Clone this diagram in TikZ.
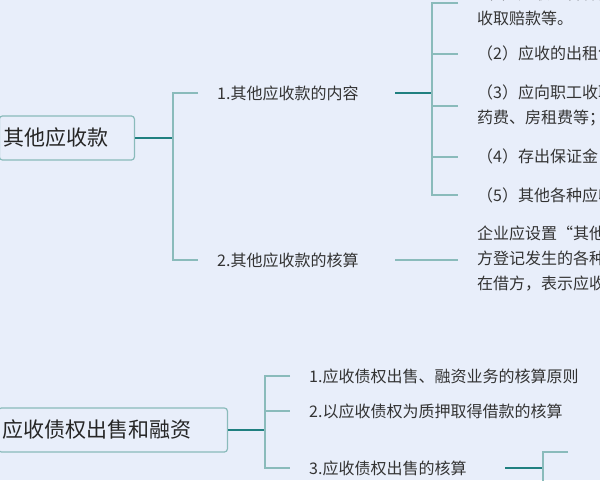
\documentclass[tikz,border=0pt]{standalone}
\usepackage{fontspec}
\setmainfont{Noto Sans CJK SC}
\begin{document}
\begin{tikzpicture}[x=1pt,y=-1pt,
  lnk/.style={draw=teal!45!white!85!gray, line width=1.1pt},
  dlnk/.style={draw=teal!75!gray, line width=1.3pt},
  topic/.style={draw=teal!45!white!85!gray, line width=1.2pt, rounded corners=3pt, minimum height=44pt, inner xsep=4pt, font=\fontsize{21}{24}\selectfont, text=black!85, anchor=east, align=left},
  sub/.style={anchor=west, inner sep=1pt, font=\fontsize{16}{19}\selectfont, text=black!80},
  leaf/.style={anchor=west, inner sep=1pt, align=left, font=\fontsize{16}{25}\selectfont, text=black!80}]
\path[fill={rgb,255:red,232;green,238;blue,250}] (0,0) rectangle (600,480);
\useasboundingbox (0,0) rectangle (600,480);
\clip (0,0) rectangle (600,480);
% topic 1
\node[topic, text width=127pt] (t1) at (135,138) {其他应收款};
\node[sub] (s1) at (216,93) {1.其他应收款的内容};
\node[sub] (s2) at (216,260) {2.其他应收款的核算};
\draw[dlnk] (t1.east) -- (173,138);
\draw[lnk] (198,93) -- (173,93) -- (173,260) -- (198,260);
% content leaves
\node[leaf] (l1) at (476,6) {（1）应收的各种赔款、罚款，如因企业财产等遭受意外损失而应向有关保险公司\\收取赔款等。};
\node[leaf] (l2) at (476,54) {（2）应收的出租包装物租金；};
\node[leaf] (l3) at (476,105) {（3）应向职工收取的各种垫付款项，如为职工垫付的水电费、医\\药费、房租费等；};
\node[leaf] (l4) at (476,157) {（4）存出保证金，如租入包装物支付的押金；};
\node[leaf] (l5) at (476,195) {（5）其他各种应收、暂付款项。};
\node[leaf] (l6) at (476,259) {企业应设置“其他应收款”科目进行核算，该科目借\\方登记发生的各种其他应收款项，贷方登记收回的\\在借方，表示应收未收的其他应收款项。};
\draw[dlnk] (395,93) -- (432,93);
\draw[lnk] (458,3) -- (432,3) -- (432,195) -- (458,195);
\foreach \yy in {54,106,157} \draw[lnk] (432,\yy) -- (458,\yy);
\draw[lnk] (395,260) -- (458,260);
% topic 2
\node[topic, text width=221pt] (t2) at (228,430) {应收债权出售和融资};
\node[sub] (u1) at (308,376) {1.应收债权出售、融资业务的核算原则};
\node[sub] (u2) at (308,411) {2.以应收债权为质押取得借款的核算};
\node[sub] (u3) at (308,468) {3.应收债权出售的核算};
\draw[dlnk] (t2.east) -- (265,430);
\draw[lnk] (290,376) -- (265,376) -- (265,468) -- (290,468);
\draw[lnk] (265,411) -- (290,411);
\draw[dlnk] (505,468) -- (543,468);
\draw[lnk] (568,452) -- (543,452) -- (543,490);
\end{tikzpicture}
\end{document}
